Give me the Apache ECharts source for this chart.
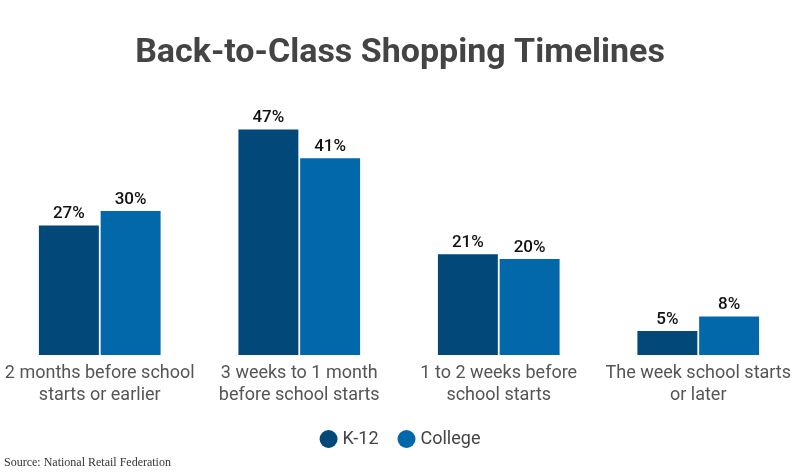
<!DOCTYPE html>
<html>
<head>
<meta charset="utf-8">
<script src="https://cdn.jsdelivr.net/npm/echarts@6/dist/echarts.min.js"></script>
<style>
  html, body { margin: 0; padding: 0; background: #fff; }
  #chart { width: 800px; height: 475px; }
</style>
</head>
<body>
<div id="chart"></div>
<script>
const categories = [
  "2 months before school\nstarts or earlier",
  "3 weeks to 1 month\nbefore school starts",
  "1 to 2 weeks before\nschool starts",
  "The week school starts\nor later"
];
const k12 = [27, 47, 21, 5];
const college = [30, 41, 20, 8];

const chart = echarts.init(document.getElementById("chart"));

const labelStyle = {
  show: true,
  position: "top",
  formatter: "{c}%",
  color: "#111",
  fontFamily: "Roboto",
  fontWeight: 500,
  fontSize: 17,
  distance: 3
};

chart.setOption({
  animation: false,
  title: {
    text: "Back-to-Class Shopping Timelines",
    left: "center",
    top: 31,
    textStyle: {
      fontFamily: "Roboto",
      fontWeight: "bold",
      fontSize: 34,
      color: "#444"
    }
  },
  graphic: [{
    type: "text",
    left: 4,
    top: 457,
    style: {
      text: "Source: National Retail Federation",
      fontFamily: "Liberation Serif",
      fontSize: 12,
      fill: "#333"
    }
  }],
  legend: {
    bottom: 22,
    left: "center",
    icon: "circle",
    itemWidth: 18,
    itemHeight: 18,
    itemGap: 19,
    textStyle: {
      fontFamily: "Roboto",
      fontSize: 18,
      color: "#444"
    },
    data: ["K-12", "College"]
  },
  grid: {
    left: 0,
    right: 2,
    top: 115,
    bottom: 120
  },
  xAxis: {
    type: "category",
    data: categories,
    axisLine: { show: false },
    axisTick: { show: false },
    axisLabel: {
      interval: 0,
      margin: 7,
      fontFamily: "Roboto",
      fontSize: 18,
      lineHeight: 22,
      color: "#555"
    }
  },
  yAxis: {
    type: "value",
    min: 0,
    max: 50,
    show: false,
    splitLine: { show: false }
  },
  series: [
    {
      name: "K-12",
      type: "bar",
      data: k12,
      barGap: "3%",
      barCategoryGap: "39%",
      itemStyle: { color: "#02497a" },
      label: labelStyle
    },
    {
      name: "College",
      type: "bar",
      data: college,
      itemStyle: { color: "#0268aa" },
      label: labelStyle
    }
  ]
});
</script>
</body>
</html>
